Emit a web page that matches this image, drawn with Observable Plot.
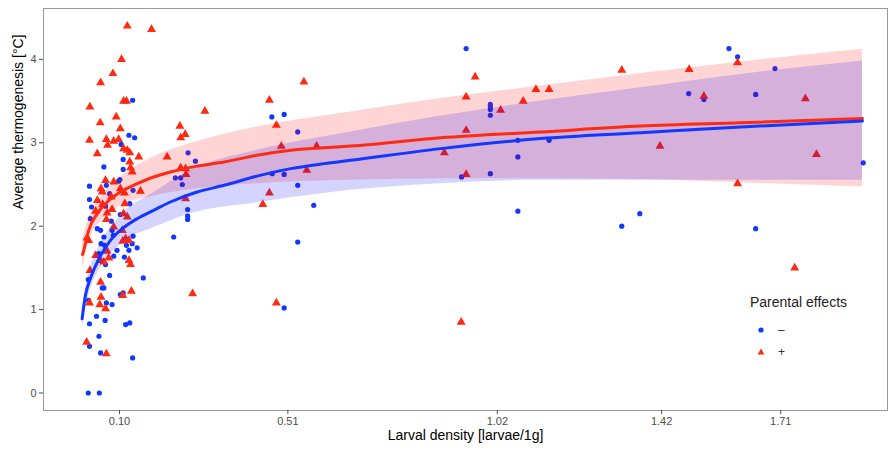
<!DOCTYPE html>
<html>
<head>
<meta charset="utf-8">
<script src="https://cdn.jsdelivr.net/npm/d3@7"></script>
<script src="https://cdn.jsdelivr.net/npm/@observablehq/plot@0.6"></script>
<style>
  body { margin: 0; background: #fff; font-family: "Liberation Sans", Arial, sans-serif; }
  #wrap { position: relative; width: 890px; height: 452px; }
  #legend { position: absolute; left: 750px; top: 294px; font-size: 14px; color: #222; }
  #legend .row { position: absolute; left: 0; height: 14px; display: flex; align-items: center; font-size: 12px; color: #333; }
</style>
</head>
<body>
<div id="wrap"></div>
<script>
// ---- data ----
const groups = ["–", "+"];
const legendTitle = "Parental effects";
const xTitle = "Larval density [larvae/1g]";
const yTitle = "Average thermogenesis [°C]";
const xTicks = [0.10, 0.51, 1.02, 1.42, 1.71];
const yTicks = [0, 1, 2, 3, 4];

const blueX = [0.132,0.123,0.137,0.104,0.267,0.109,0.285,0.062,0.109,0.236,0.249,0.101,0.098,0.027,0.068,0.133,0.253,0.076,0.027,0.125,0.032,0.066,0.266,0.102,0.266,0.266,0.029,0.080,0.046,0.054,0.082,0.062,0.085,0.133,0.232,0.055,0.064,0.117,0.131,0.143,0.094,0.123,0.050,0.112,0.086,0.066,0.076,0.024,0.158,0.058,0.062,0.102,0.109,0.025,0.068,0.082,0.044,0.065,0.027,0.115,0.125,0.050,0.027,0.054,0.132,0.024,0.051,0.471,0.501,0.534,0.472,0.501,0.534,0.573,0.534,0.501,0.944,1.003,1.003,1.003,1.003,1.070,1.146,1.070,0.933,1.003,1.070,1.323,1.367,1.584,1.605,1.696,1.486,1.523,1.649,1.911,1.649];
const blueY = [3.51,3.09,3.06,2.98,2.88,2.80,2.78,2.71,2.68,2.58,2.58,2.56,2.54,2.48,2.49,2.43,2.50,2.39,2.32,2.27,2.23,2.24,2.20,2.14,2.12,2.08,2.09,2.06,1.97,1.95,1.95,1.87,1.89,1.88,1.87,1.79,1.77,1.77,1.79,1.74,1.71,1.71,1.67,1.63,1.64,1.54,1.41,1.36,1.38,1.26,1.26,1.18,1.20,1.11,1.08,1.06,0.92,0.87,0.83,0.82,0.84,0.68,0.56,0.48,0.42,0,0,3.31,3.34,3.13,2.63,2.62,2.49,2.25,1.81,1.02,4.13,3.46,3.43,3.40,3.33,3.03,3.03,2.83,2.59,2.63,2.18,2.00,2.15,4.13,4.03,3.89,3.59,3.52,3.58,2.76,1.97];

const redX = [0.119,0.178,0.105,0.084,0.054,0.110,0.117,0.028,0.092,0.053,0.102,0.247,0.260,0.249,0.068,0.027,0.098,0.071,0.086,0.110,0.119,0.125,0.046,0.147,0.216,0.125,0.127,0.131,0.249,0.261,0.262,0.066,0.086,0.055,0.058,0.102,0.112,0.151,0.080,0.046,0.261,0.113,0.059,0.082,0.042,0.070,0.110,0.119,0.068,0.086,0.107,0.115,0.123,0.021,0.025,0.108,0.070,0.042,0.074,0.054,0.062,0.123,0.127,0.028,0.054,0.129,0.278,0.108,0.055,0.027,0.052,0.066,0.020,0.068,0.308,0.549,0.465,0.482,0.494,0.580,0.556,0.465,0.449,0.482,0.966,0.944,1.028,1.083,1.114,1.146,1.323,0.944,0.891,0.944,0.932,1.605,1.487,1.523,1.770,1.416,1.797,1.605,1.744];
const redY = [4.40,4.36,4.00,3.83,3.72,3.50,3.50,3.43,3.31,3.24,3.17,3.20,3.10,3.06,3.04,3.03,3.04,2.97,3.02,2.93,2.91,2.88,2.87,2.83,2.83,2.77,2.70,2.65,2.70,2.69,2.62,2.55,2.53,2.45,2.41,2.45,2.40,2.42,2.35,2.31,2.33,2.27,2.26,2.20,2.18,2.16,2.15,2.11,2.08,1.99,1.95,1.85,1.83,1.86,1.83,1.82,1.70,1.65,1.62,1.59,1.57,1.59,1.54,1.47,1.33,1.22,1.19,1.17,1.15,1.08,1.06,1.01,0.61,0.47,3.38,3.73,3.51,3.21,2.96,2.96,2.67,2.40,2.26,1.08,3.79,3.55,3.39,3.50,3.64,3.64,3.87,3.15,2.88,2.62,0.85,3.96,3.88,3.56,3.53,2.96,2.86,2.51,1.50];

// fitted curves
const redFitX = [0.010,0.013,0.025,0.046,0.070,0.102,0.143,0.183,0.224,0.289,0.355,0.435,0.517,0.598,0.663,0.882,1.126,1.369,1.613,1.909];
const redFitY = [1.66,1.71,1.95,2.15,2.29,2.41,2.51,2.59,2.65,2.72,2.77,2.85,2.91,2.94,2.96,3.06,3.13,3.20,3.24,3.29];
const blueFitX = [0.009,0.017,0.029,0.046,0.050,0.078,0.102,0.143,0.183,0.224,0.289,0.355,0.435,0.517,0.598,0.663,0.882,1.126,1.369,1.613,1.909];
const blueFitY = [0.89,1.17,1.37,1.57,1.61,1.83,1.95,2.09,2.19,2.29,2.41,2.49,2.60,2.69,2.75,2.79,2.93,3.05,3.12,3.19,3.26];

// confidence bands
const redBandX  = [0.010,0.025,0.050,0.102,0.183,0.273,0.435,0.663,0.882,1.126,1.369,1.613,1.909];
const redBandLo = [1.48,1.81,2.03,2.24,2.36,2.44,2.51,2.55,2.57,2.57,2.56,2.52,2.47];
const redBandHi = [1.84,2.09,2.31,2.58,2.83,2.99,3.19,3.37,3.53,3.68,3.83,3.97,4.12];
const blueBandX  = [0.009,0.029,0.050,0.102,0.183,0.273,0.435,0.663,0.882,1.126,1.369,1.613,1.909];
const blueBandLo = [0.77,1.24,1.47,1.78,1.98,2.15,2.28,2.43,2.51,2.55,2.55,2.55,2.55];
const blueBandHi = [1.01,1.50,1.75,2.12,2.40,2.67,2.91,3.13,3.32,3.50,3.66,3.82,3.98];

// ---- tables ----
const bluePts = blueX.map((x, i) => ({x, y: blueY[i], g: groups[0]}));
const redPts = redX.map((x, i) => ({x, y: redY[i], g: groups[1]}));
const redFit = redFitX.map((x, i) => ({x, y: redFitY[i]}));
const blueFit = blueFitX.map((x, i) => ({x, y: blueFitY[i]}));
const redBand = redBandX.map((x, i) => ({x, lo: redBandLo[i], hi: redBandHi[i]}));
const blueBand = blueBandX.map((x, i) => ({x, lo: blueBandLo[i], hi: blueBandHi[i]}));

const RED = "#ff2a12";
const BLUE = "#1238ff";
const font = "'Liberation Sans', Arial, sans-serif";

const chart = Plot.plot({
  width: 890,
  height: 452,
  marginTop: 8,
  marginRight: 3,
  marginBottom: 42,
  marginLeft: 43,
  style: {fontFamily: font, fontSize: "11px", background: "#fff"},
  x: {domain: [-0.085, 1.97]},
  y: {domain: [-0.21, 4.61]},
  marks: [
    Plot.frame({stroke: "#999", strokeWidth: 1}),
    Plot.dot(bluePts, {x: "x", y: "y", r: 2.6, fill: BLUE, stroke: "none"}),
    Plot.dot(redPts, {x: "x", y: "y", r: 3.3, symbol: "triangle", fill: RED, stroke: "none"}),
    Plot.areaY(redBand, {x: "x", y1: "lo", y2: "hi", fill: "#ff0000", fillOpacity: 0.17, curve: "monotone-x"}),
    Plot.areaY(blueBand, {x: "x", y1: "lo", y2: "hi", fill: "#0000ff", fillOpacity: 0.17, curve: "monotone-x"}),
    Plot.line(redFit, {x: "x", y: "y", stroke: RED, strokeWidth: 3, curve: "monotone-x"}),
    Plot.line(blueFit, {x: "x", y: "y", stroke: BLUE, strokeWidth: 3, curve: "monotone-x"}),
    Plot.axisX({ticks: xTicks, tickFormat: d3.format(".2f"), tickSize: 4, tickPadding: 3, color: "#4d4d4d", label: null}),
    Plot.axisY({ticks: yTicks, tickFormat: d3.format("d"), tickSize: 4, tickPadding: 3, color: "#4d4d4d", label: null}),
    Plot.text([xTitle], {frameAnchor: "bottom", dy: 29, fontSize: 14, fill: "#000"}),
    Plot.text([yTitle], {frameAnchor: "left", dx: -25, rotate: -90, fontSize: 14, fill: "#000"})
  ]
});

const wrap = document.getElementById("wrap");
wrap.appendChild(chart);

const legend = document.createElement("div");
legend.id = "legend";
legend.innerHTML = `<div style="position:absolute;left:0;top:0;white-space:nowrap">${legendTitle}</div>`;
const syms = [
  `<svg width="10" height="10"><circle cx="5" cy="5" r="2.6" fill="${BLUE}"/></svg>`,
  `<svg width="10" height="10"><path d="${d3.symbol(d3.symbolTriangle2, Math.PI*3.3*3.3)()}" transform="translate(5,5.5)" fill="${RED}"/></svg>`
];
groups.forEach((g, i) => {
  const row = document.createElement("div");
  row.className = "row";
  row.style.top = (29 + i * 22) + "px";
  row.style.left = "6px";
  row.innerHTML = syms[i] + `<span style="margin-left:12px">${g}</span>`;
  legend.appendChild(row);
});
wrap.appendChild(legend);
</script>
</body>
</html>
